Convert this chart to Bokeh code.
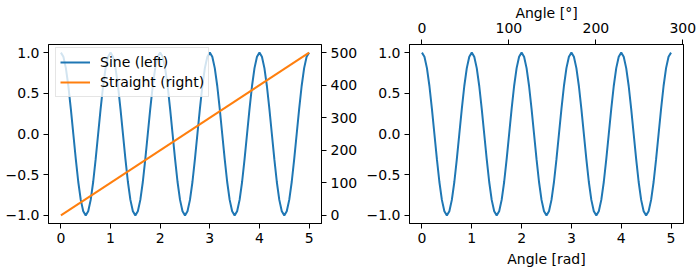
from bokeh.plotting import figure
from bokeh.layouts import row
from bokeh.models import (Range1d, LinearAxis, FixedTicker, Legend, LegendItem, AllLabels,
                          CustomJSTickFormatter)
from bokeh.embed import file_html
from bokeh.resources import INLINE

# ---- data ----
angle_rad = [round(i * 0.05, 2) for i in range(101)]
sine_values = [
    1.00, 0.95, 0.81, 0.59, 0.31, 0.00, -0.31, -0.59, -0.81, -0.95,
    -1.00, -0.95, -0.81, -0.59, -0.31, 0.00, 0.31, 0.59, 0.81, 0.95,
    1.00, 0.95, 0.81, 0.59, 0.31, 0.00, -0.31, -0.59, -0.81, -0.95,
    -1.00, -0.95, -0.81, -0.59, -0.31, 0.00, 0.31, 0.59, 0.81, 0.95,
    1.00, 0.95, 0.81, 0.59, 0.31, 0.00, -0.31, -0.59, -0.81, -0.95,
    -1.00, -0.95, -0.81, -0.59, -0.31, 0.00, 0.31, 0.59, 0.81, 0.95,
    1.00, 0.95, 0.81, 0.59, 0.31, 0.00, -0.31, -0.59, -0.81, -0.95,
    -1.00, -0.95, -0.81, -0.59, -0.31, 0.00, 0.31, 0.59, 0.81, 0.95,
    1.00, 0.95, 0.81, 0.59, 0.31, 0.00, -0.31, -0.59, -0.81, -0.95,
    -1.00, -0.95, -0.81, -0.59, -0.31, 0.00, 0.31, 0.59, 0.81, 0.95,
    1.00,
]
straight_x = [0, 5]
straight_y = [0, 500]

x_ticks = [0, 1, 2, 3, 4, 5]
y_ticks = [-1.0, -0.5, 0.0, 0.5, 1.0]
y_labels = {-1.0: "\u22121.0", -0.5: "\u22120.5", 0.0: "0.0", 0.5: "0.5", 1.0: "1.0"}
right_ticks = [0, 100, 200, 300, 400, 500]
deg_ticks = [0, 100, 200, 300]

BLUE = "#1f77b4"
ORANGE = "#ff7f0e"
FONT = "DejaVu Sans"
FS = "14px"
RAD2DEG = 180.0 / 3.141592653589793


def style_axis(ax, ticks, overrides=None):
    ax.ticker = FixedTicker(ticks=ticks)
    if overrides:
        ax.major_label_overrides = overrides
    ax.major_label_policy = AllLabels()
    ax.major_label_text_font = FONT
    ax.major_label_text_font_size = FS
    ax.major_label_text_color = "black"
    ax.major_tick_in = 0
    ax.major_tick_out = 5
    ax.minor_tick_in = 0
    ax.minor_tick_out = 0
    ax.major_label_standoff = 4
    ax.axis_line_color = "black"
    ax.axis_line_width = 1
    ax.major_tick_line_color = "black"
    ax.major_tick_line_width = 1
    ax.axis_label_text_font = FONT
    ax.axis_label_text_font_size = FS
    ax.axis_label_text_font_style = "normal"
    ax.axis_label_text_color = "black"
    ax.axis_label_standoff = 5


# ---- left figure ----
p1 = figure(width=360, height=270, output_backend="svg", toolbar_location=None,
            x_range=Range1d(-0.25, 5.25), y_range=Range1d(-1.1, 1.1),
            min_border_left=48, min_border_right=39, min_border_top=44, min_border_bottom=47)
p1.extra_y_ranges = {"right": Range1d(-25, 525)}
p1.grid.visible = False
p1.outline_line_color = "black"
p1.outline_line_width = 1
p1.outline_line_alpha = 1
style_axis(p1.xaxis[0], x_ticks)
style_axis(p1.yaxis[0], y_ticks, y_labels)
right_ax = LinearAxis(y_range_name="right")
style_axis(right_ax, right_ticks)
p1.add_layout(right_ax, "right")

r_sine = p1.line(angle_rad, sine_values, line_color=BLUE, line_width=2)
r_straight = p1.line(straight_x, straight_y, line_color=ORANGE, line_width=2, y_range_name="right")

legend = Legend(items=[LegendItem(label="Sine (left)", renderers=[r_sine]),
                       LegendItem(label="Straight (right)", renderers=[r_straight])],
                location=(7, 126))
legend.label_text_font = FONT
legend.label_text_font_size = FS
legend.label_text_color = "black"
legend.border_line_color = "#cccccc"
legend.border_line_width = 1
legend.background_fill_color = "white"
legend.background_fill_alpha = 0.8
legend.glyph_width = 30
legend.glyph_height = 20
legend.label_height = 20
legend.spacing = 0
legend.padding = 4
legend.margin = 0
legend.label_standoff = 10
p1.add_layout(legend)

# ---- right figure ----
p2 = figure(width=340, height=270, output_backend="svg", toolbar_location=None,
            x_range=Range1d(-0.25, 5.25), y_range=Range1d(-1.1, 1.1),
            min_border_left=49, min_border_right=17, min_border_top=44, min_border_bottom=47)
p2.grid.visible = False
p2.outline_line_color = "black"
p2.outline_line_width = 1
p2.outline_line_alpha = 1
style_axis(p2.xaxis[0], x_ticks)
p2.xaxis[0].axis_label = "Angle [rad]"
style_axis(p2.yaxis[0], y_ticks, y_labels)
top_ax = LinearAxis(axis_label="Angle [\u00b0]")
style_axis(top_ax, [d / RAD2DEG for d in deg_ticks])
top_ax.formatter = CustomJSTickFormatter(code="return Math.round(tick * 180 / Math.PI).toString();")
top_ax.major_label_standoff = 7
top_ax.axis_label_standoff = -1
p2.add_layout(top_ax, "above")

p2.line(angle_rad, sine_values, line_color=BLUE, line_width=2)

layout = row(p1, p2)
open("out.html", "w").write(file_html(layout, INLINE))
